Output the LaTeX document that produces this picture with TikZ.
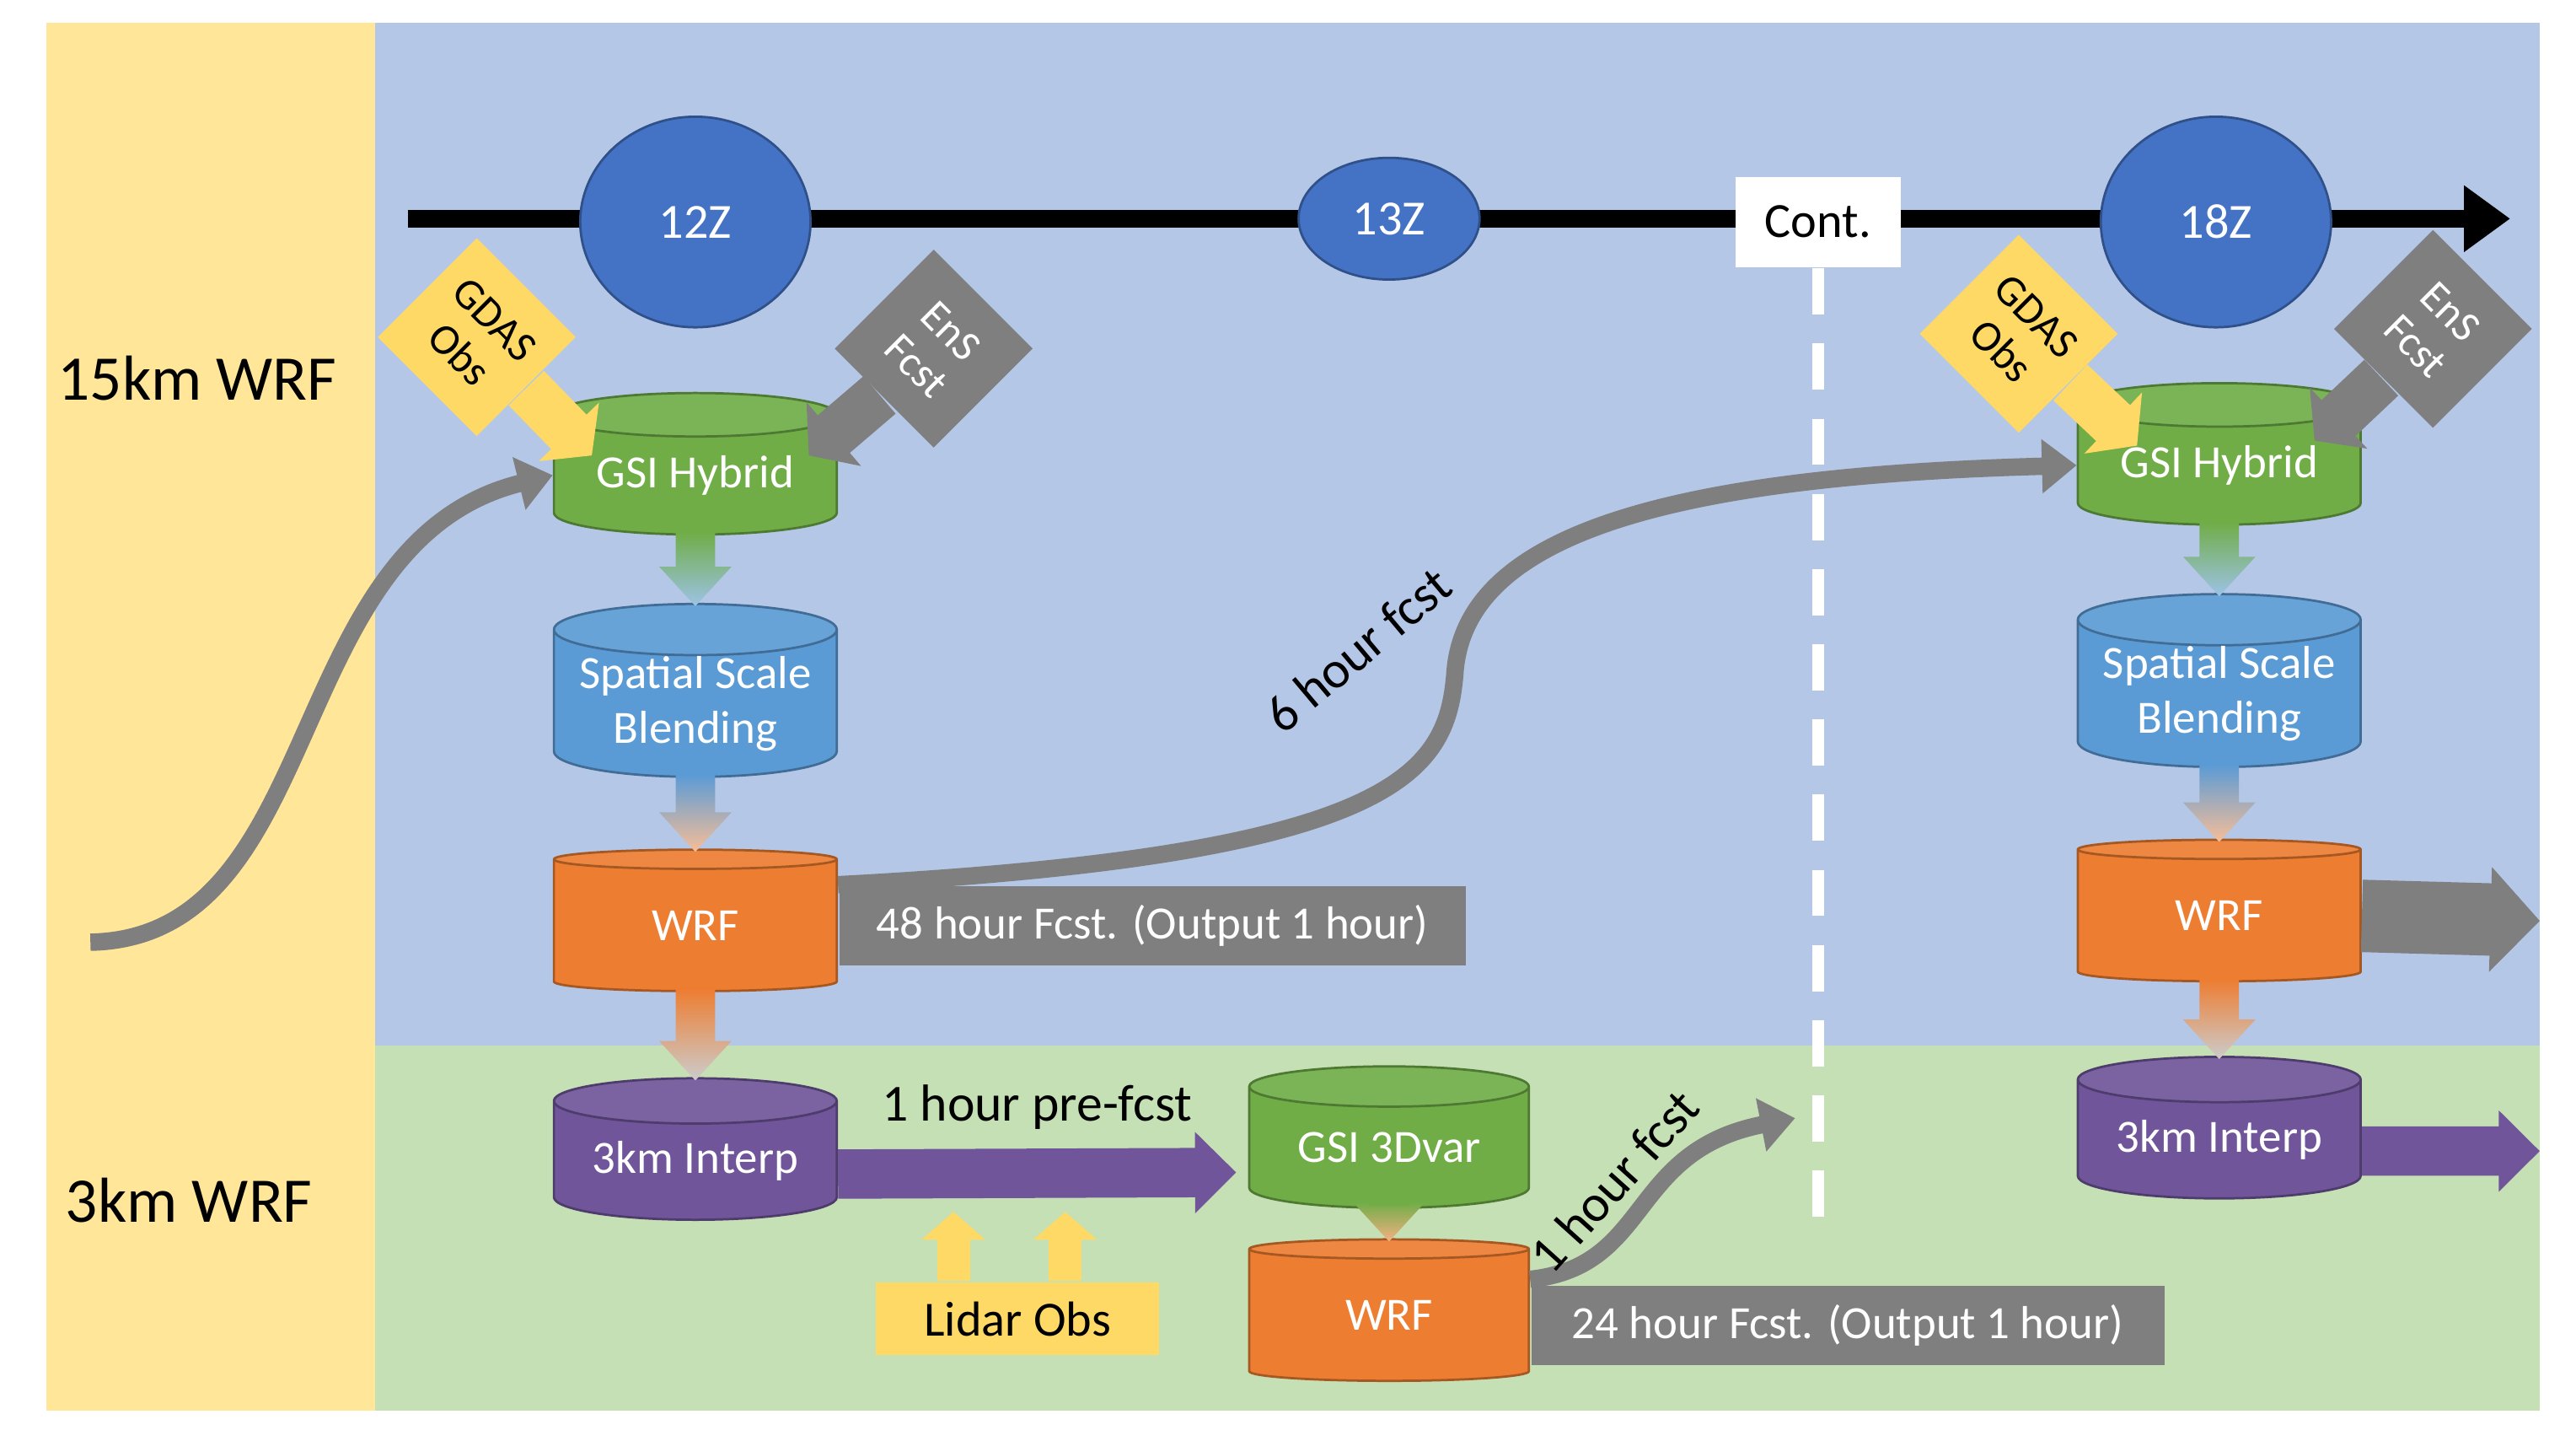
\documentclass[tikz,border=0pt]{standalone}
\usepackage{fontspec}
\setmainfont{Carlito}
\usetikzlibrary{shapes.geometric, shapes.arrows, arrows.meta, positioning, calc}
\definecolor{bgblue}{HTML}{B4C7E7}
\definecolor{bgyellow}{HTML}{FFE699}
\definecolor{bggreen}{HTML}{C5E0B4}
\definecolor{circblue}{HTML}{4472C4}
\definecolor{cgreen}{HTML}{70AD47}
\definecolor{cblue}{HTML}{5B9BD5}
\definecolor{corange}{HTML}{ED7D31}
\definecolor{cpurple}{HTML}{70559A}
\definecolor{cgray}{HTML}{7F7F7F}
\definecolor{cyellow}{HTML}{FFD966}
\tikzset{
  cyl/.style={cylinder, shape border rotate=90, aspect=0.22, minimum width=1.72cm,
    minimum height=0.86cm, draw=#1!70!black, cylinder uses custom fill,
    cylinder body fill=#1, cylinder end fill=#1!92!white, text=white,
    font=\fontsize{8}{9.5}\selectfont, align=center, inner sep=0pt},
  time/.style={ellipse, fill=circblue, draw=circblue!70!black, text=white,
    font=\fontsize{8.5}{10}\selectfont},
  grayband/.style={fill=cgray, text=white, font=\fontsize{8}{10}\selectfont,
    minimum height=0.44cm, inner xsep=6pt},
  callout/.style={fill=#1, rotate=-45, minimum size=0.85cm, align=center,
    font=\fontsize{7.5}{8.5}\selectfont, inner sep=1pt},
  fat/.style={draw=#1, line width=3pt, -{Triangle[width=9pt,length=6pt]}},
}
\newcommand\fadearrow[4]{%
  \shade[top color=#3, bottom color=#4]
    ($(#1.bottom)+(-12,-2)$) -- ($(#1.bottom)+(12,-2)$) -- ($(#2.top)+(12,-22)$)
    -- ($(#2.top)+(22,-22)$) -- ($(#2.top)+(0,2)$) -- ($(#2.top)+(-22,-22)$)
    -- ($(#2.top)+(-12,-22)$) -- cycle;}
\begin{document}
\begin{tikzpicture}[x=0.01cm, y=-0.01cm]
  % Backgrounds
  \fill[white] (0,0) rectangle (1560,876);
  \fill[bgyellow] (28,14) rectangle (228,858);
  \fill[bgblue] (228,14) rectangle (1545,636);
  \fill[bggreen] (228,636) rectangle (1545,858);
  \node[font=\fontsize{11}{13}\selectfont] (l15) at (120,230) {15km WRF};
  \node[font=\fontsize{11}{13}\selectfont] (l3) at (115,730) {3km WRF};

  % Timeline
  \coordinate (tl0) at (248,133);
  \coordinate (tl1) at (1527,133);
  \draw[line width=3pt, -{Triangle[width=11pt,length=8pt]}] (tl0) -- (tl1);
  \node[time, minimum width=1.4cm, minimum height=1.28cm] (t12) at (423,135) {12Z};
  \node[time, minimum width=1.1cm, minimum height=0.74cm] (t13) at (845,133) {13Z};
  \node[time, minimum width=1.4cm, minimum height=1.28cm] (t18) at (1348,135) {18Z};
  \node[fill=white, minimum width=1cm, minimum height=0.55cm,
    font=\fontsize{8.5}{10}\selectfont] (cont) at (1106,135) {Cont.};
  \coordinate (contend) at (1106,745);
  \draw[white, line width=2pt, dash pattern=on 8pt off 5pt] (cont.south) -- (contend);

  % Cylinders
  \node[cyl=cgreen] (g1) at (423,289) {GSI Hybrid};
  \node[cyl=cblue] (s1) at (423,428) {Spatial Scale\\Blending};
  \node[cyl=corange] (w1) at (423,563) {WRF};
  \node[cyl=cpurple] (i1) at (423,706) {3km Interp};
  \node[cyl=cgreen, minimum width=1.7cm] (g2) at (845,698) {GSI 3Dvar};
  \node[cyl=corange, minimum width=1.7cm] (w2) at (845,800) {WRF};
  \node[cyl=cgreen] (g3) at (1350,283) {GSI Hybrid};
  \node[cyl=cblue] (s3) at (1350,422) {Spatial Scale\\Blending};
  \node[cyl=corange] (w3) at (1350,557) {WRF};
  \node[cyl=cpurple] (i3) at (1350,693) {3km Interp};

  % Faded arrows
  \fadearrow{g1}{s1}{cgreen}{cblue!60}
  \fadearrow{s1}{w1}{cblue}{corange!50}
  \fadearrow{w1}{i1}{corange}{gray!40}
  \fadearrow{g2}{w2}{cgreen}{corange!60}
  \fadearrow{g3}{s3}{cgreen}{cblue!60}
  \fadearrow{s3}{w3}{cblue}{corange!50}
  \fadearrow{w3}{i3}{corange}{gray!40}

  % Inputs
  \node[callout=cyellow] (gd1) at (290,205) {GDAS\\Obs};
  \node[callout=cgray, text=white] (en1) at (568,212) {EnS\\Fcst};
  \node[callout=cyellow] (gd3) at (1228,203) {GDAS\\Obs};
  \node[callout=cgray, text=white] (en3) at (1480,200) {EnS\\Fcst};
  \draw[cyellow, line width=0.3cm, -{Triangle[width=0.5cm,length=0.2cm]}] (gd1) -- (360,277);
  \draw[cgray, line width=0.3cm, -{Triangle[width=0.5cm,length=0.2cm]}] (en1) -- (492,277);
  \draw[cyellow, line width=0.3cm, -{Triangle[width=0.5cm,length=0.2cm]}] (gd3) -- (1300,271);
  \draw[cgray, line width=0.3cm, -{Triangle[width=0.5cm,length=0.2cm]}] (en3) -- (1408,268);

  % Forecast bands
  \node[grayband, anchor=west, minimum width=3.81cm] (f48) at (w1.east) {48 hour Fcst. (Output 1 hour)};
  \node[grayband, anchor=west, minimum width=3.85cm] (f24) at ($(w2.east)+(0,6)$) {24 hour Fcst. (Output 1 hour)};
  \coordinate (w3out) at (1545,560);
  \draw[cgray, line width=0.44cm, -{Triangle[width=0.62cm,length=0.3cm]}] (w3.east) -- (w3out);
  \coordinate (i3out) at (1545,700);
  \draw[cpurple, line width=0.3cm, -{Triangle[width=0.48cm,length=0.25cm]}] ($(i3.east)+(0,7)$) -- (i3out);
  \coordinate (preend) at (752,713);
  \draw[cpurple, line width=0.3cm, -{Triangle[width=0.48cm,length=0.25cm]}] ($(i1.east)+(0,8)$) -- (preend)
    node[midway, above=0pt, text=black, font=\fontsize{9}{11}\selectfont] {1 hour pre-fcst};

  % Lidar
  \node[fill=cyellow, minimum width=1.72cm, minimum height=0.43cm,
    font=\fontsize{8.5}{10}\selectfont] (lidar) at (619,802) {Lidar Obs};
  \coordinate (la) at (580,737);
  \coordinate (lb) at (648,737);
  \draw[cyellow, line width=0.2cm, -{Triangle[width=0.38cm,length=0.17cm]}] (lidar.north -| la) -- (la);
  \draw[cyellow, line width=0.2cm, -{Triangle[width=0.38cm,length=0.17cm]}] (lidar.north -| lb) -- (lb);

  % Curved forecasts
  \coordinate (prev) at (55,573);
  \draw[fat=cgray] (prev) .. controls (200,570) and (170,330) .. (g1.west);
  \draw[fat=cgray] (f48.north west) .. controls (850,520) and (880,470) .. (885,410)
    .. controls (890,330) and (1000,290) .. (g3.west);
  \node[rotate=40, font=\fontsize{9}{11}\selectfont] (lab6) at (826,395) {6 hour fcst};
  \coordinate (oneend) at (1092,680);
  \draw[fat=cgray] ($(w2.east)+(0,-22)$) .. controls (1005,770) and (990,700) .. (oneend);
  \node[rotate=48, font=\fontsize{9}{11}\selectfont] (lab1) at (982,718) {1 hour fcst};
\end{tikzpicture}
\end{document}
